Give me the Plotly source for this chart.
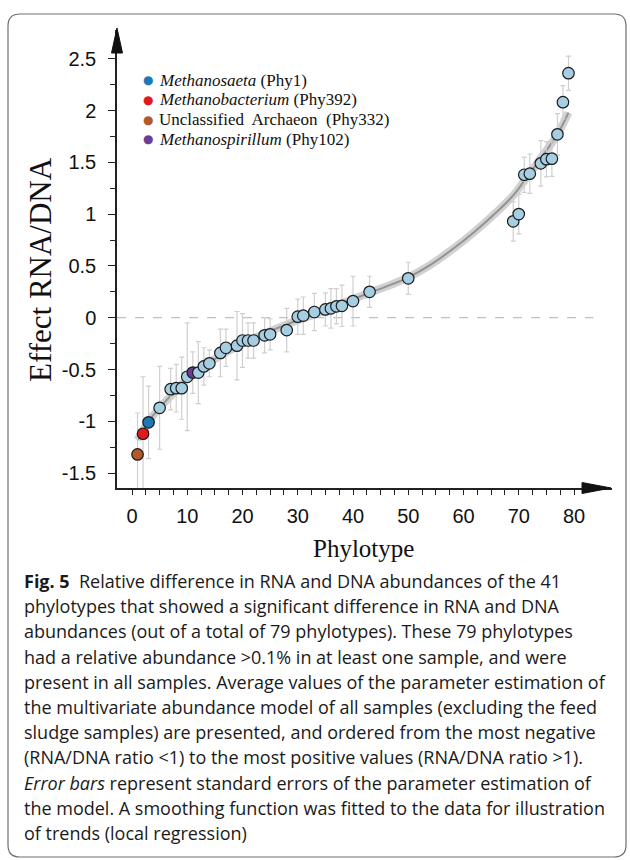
import numpy as np
import plotly.graph_objects as go

# ---------------- data ----------------
phylotype = [1, 2, 3, 5, 7, 8, 9, 10, 11, 12, 13, 14, 16, 17, 19, 20, 21, 22, 24, 25,
             28, 30, 31, 33, 35, 36, 37, 38, 40, 43, 50, 69, 70, 71, 72, 74, 75, 76, 77, 78, 79]
effect = [-1.32, -1.12, -1.01, -0.87, -0.69, -0.68, -0.68, -0.57, -0.53, -0.53,
          -0.47, -0.44, -0.34, -0.29, -0.27, -0.22, -0.22, -0.22, -0.17, -0.16,
          -0.12, 0.01, 0.02, 0.055, 0.08, 0.09, 0.11, 0.115, 0.16, 0.25,
          0.38, 0.93, 1.0, 1.38, 1.39, 1.49, 1.53, 1.535, 1.77, 2.08, 2.36]
std_err = [0.4, 0.55, 0.35, 0.4, 0.2, 0.23, 0.3, 0.52, 0.2, 0.3,
           0.18, 0.13, 0.23, 0.18, 0.33, 0.26, 0.17, 0.17, 0.17, 0.15,
           0.21, 0.17, 0.18, 0.18, 0.16, 0.19, 0.17, 0.2, 0.24, 0.15,
           0.155, 0.19, 0.19, 0.17, 0.19, 0.22, 0.17, 0.17, 0.2, 0.16, 0.165]

# highlighted phylotypes (position in ordering -> label)
highlight_x = [3, 2, 1, 11]
highlight_labels = ["<i>Methanosaeta</i> (Phy1)",
                    "<i>Methanobacterium</i> (Phy392)",
                    "Unclassified  Archaeon  (Phy332)",
                    "<i>Methanospirillum</i> (Phy102)"]

# local regression curve
smooth_x = [1, 3, 5, 7, 10, 13, 16, 20, 25, 28, 30, 35, 40, 43, 50, 54, 58, 62, 66, 69, 71, 74, 77, 79]
smooth_y = [-1.18, -1.0, -0.87, -0.755, -0.595, -0.47, -0.365, -0.25, -0.13, -0.065, -0.025, 0.07,
            0.18, 0.24, 0.39, 0.51, 0.66, 0.83, 1.02, 1.18, 1.32, 1.54, 1.77, 1.98]

x_ticks = [0, 10, 20, 30, 40, 50, 60, 70, 80]
y_ticks = [-1.5, -1, -0.5, 0, 0.5, 1, 1.5, 2, 2.5]
y_ticktext = ["-1.5", "-1", "-0.5", "0", "0.5", "1", "1.5", "2", "2.5"]

caption_lines = [
    "<b>Fig. 5</b>  Relative difference in RNA and DNA abundances of the 41",
    "phylotypes that showed a significant difference in RNA and DNA",
    "abundances (out of a total of 79 phylotypes). These 79 phylotypes",
    "had a relative abundance >0.1% in at least one sample, and were",
    "present in all samples. Average values of the parameter estimation of",
    "the multivariate abundance model of all samples (excluding the feed",
    "sludge samples) are presented, and ordered from the most negative",
    "(RNA/DNA ratio <1) to the most positive values (RNA/DNA ratio >1).",
    "<i>Error bars</i> represent standard errors of the parameter estimation of",
    "the model. A smoothing function was fitted to the data for illustration",
    "of trends (local regression)",
]

# ---------------- styling ----------------
W, H = 630, 860
ML, MR, MT, MB = 117, 18, 30, 372
PW, PH = W - ML - MR, H - MT - MB

def px(xp):
    return (xp - ML) / PW

def py(yp):
    return (MT + PH - yp) / PH

palette = {3: "#1f78b4", 2: "#e31a1c", 1: "#b15928", 11: "#6a3d9a"}
base_fill = "#a6cee3"
marker_colors = [palette.get(p, base_fill) for p in phylotype]

serif = "Liberation Serif"
sans = "Liberation Sans"

fig = go.Figure()

# smoothing band + line
fig.add_trace(go.Scatter(x=smooth_x, y=smooth_y, mode="lines", line_shape="spline",
                         line=dict(color="rgba(190,190,190,0.7)", width=8),
                         hoverinfo="skip", showlegend=False))
fig.add_trace(go.Scatter(x=smooth_x, y=smooth_y, mode="lines", line_shape="spline",
                         line=dict(color="#939393", width=2),
                         hoverinfo="skip", showlegend=False))

# points with error bars
fig.add_trace(go.Scatter(
    x=phylotype, y=effect, mode="markers",
    error_y=dict(type="data", array=std_err, color="#cfcfcf", thickness=1.2, width=2.5),
    marker=dict(size=11.5, color=marker_colors, line=dict(color="#1a1a1a", width=1.2)),
    showlegend=False))

shapes = []
# zero dashed line
shapes.append(dict(type="line", xref="x", yref="y", x0=-2.7, x1=83.5, y0=0, y1=0,
                   line=dict(color="#c0c0c0", width=1.3, dash="dash"), layer="below"))
# arrow heads
shapes.append(dict(type="path", xref="paper", yref="paper",
                   path=f"M {px(117)} {py(28)} L {px(111.5)} {py(53)} L {px(122.5)} {py(53)} Z",
                   fillcolor="#111", line=dict(color="#111", width=1)))
shapes.append(dict(type="path", xref="paper", yref="paper",
                   path=f"M {px(611)} {py(488)} L {px(582)} {py(482.5)} L {px(582)} {py(493.5)} Z",
                   fillcolor="#111", line=dict(color="#111", width=1)))
# rounded frame
x0b, x1b, y0b, y1b, r = 8, 626, 14, 857, 12
path = (f"M {px(x0b + r)} {py(y0b)} L {px(x1b - r)} {py(y0b)} "
        f"Q {px(x1b)} {py(y0b)} {px(x1b)} {py(y0b + r)} "
        f"L {px(x1b)} {py(y1b - r)} Q {px(x1b)} {py(y1b)} {px(x1b - r)} {py(y1b)} "
        f"L {px(x0b + r)} {py(y1b)} Q {px(x0b)} {py(y1b)} {px(x0b)} {py(y1b - r)} "
        f"L {px(x0b)} {py(y0b + r)} Q {px(x0b)} {py(y0b)} {px(x0b + r)} {py(y0b)} Z")
shapes.append(dict(type="path", xref="paper", yref="paper", path=path,
                   line=dict(color="#6e6e6e", width=1.2)))

annotations = []
# axis titles
annotations.append(dict(text="Phylotype", xref="paper", yref="paper", x=px(363), y=py(548),
                        showarrow=False, xanchor="center", yanchor="middle",
                        font=dict(family=serif, size=25, color="#111")))
annotations.append(dict(text="Effect RNA/DNA", xref="paper", yref="paper", x=px(40), y=py(270),
                        showarrow=False, xanchor="center", yanchor="middle", textangle=-90,
                        font=dict(family=serif, size=31, color="#111")))
# legend
legend_rows = [80, 99.8, 119.6, 139.4]
for row_y, hx, lab in zip(legend_rows, highlight_x, highlight_labels):
    annotations.append(dict(text="●", xref="paper", yref="paper", x=px(148), y=py(row_y),
                            showarrow=False, xanchor="center", yanchor="middle",
                            font=dict(family="DejaVu Sans", size=12, color=palette[hx])))
    annotations.append(dict(text=lab, xref="paper", yref="paper", x=px(157), y=py(row_y),
                            showarrow=False, xanchor="left", yanchor="middle",
                            font=dict(family=serif, size=17, color="#111")))
# caption
for i, line in enumerate(caption_lines):
    annotations.append(dict(text=line, xref="paper", yref="paper", x=px(22), y=py(581 + 25.2 * i),
                            showarrow=False, xanchor="left", yanchor="middle",
                            font=dict(family="Open Sans", size=18, color="#1a1a1a")))

fig.update_layout(
    width=W, height=H, margin=dict(l=ML, r=MR, t=MT, b=MB, pad=0),
    paper_bgcolor="white", plot_bgcolor="white",
    shapes=shapes, annotations=annotations, showlegend=False,
    xaxis=dict(range=[-15 / 5.525, 480 / 5.525], showgrid=False, zeroline=False,
               showline=True, linecolor="#222", linewidth=1.5,
               tickmode="array", tickvals=x_ticks, ticks="outside", ticklen=5,
               tickcolor="#222", tickwidth=1.2, ticklabelstandoff=4,
               minor=dict(tickmode="array", tickvals=list(np.arange(0, 80.1, 2.5)),
                          ticks="outside", ticklen=5, tickcolor="#222", tickwidth=1.2),
               tickfont=dict(family=sans, size=20, color="#111")),
    yaxis=dict(range=[-(488 - 317.7) / 103.6, (317.7 - 30) / 103.6], showgrid=False, zeroline=False,
               showline=True, linecolor="#222", linewidth=1.5,
               tickmode="array", tickvals=y_ticks, ticktext=y_ticktext,
               ticks="outside", ticklen=7, tickcolor="#222", tickwidth=1.2, ticklabelstandoff=8,
               minor=dict(tickmode="array", tickvals=list(np.arange(-1.25, 2.3, 0.5)),
                          ticks="outside", ticklen=5, tickcolor="#222", tickwidth=1.2),
               tickfont=dict(family=sans, size=20, color="#111")),
)

fig.write_html("out.html")
